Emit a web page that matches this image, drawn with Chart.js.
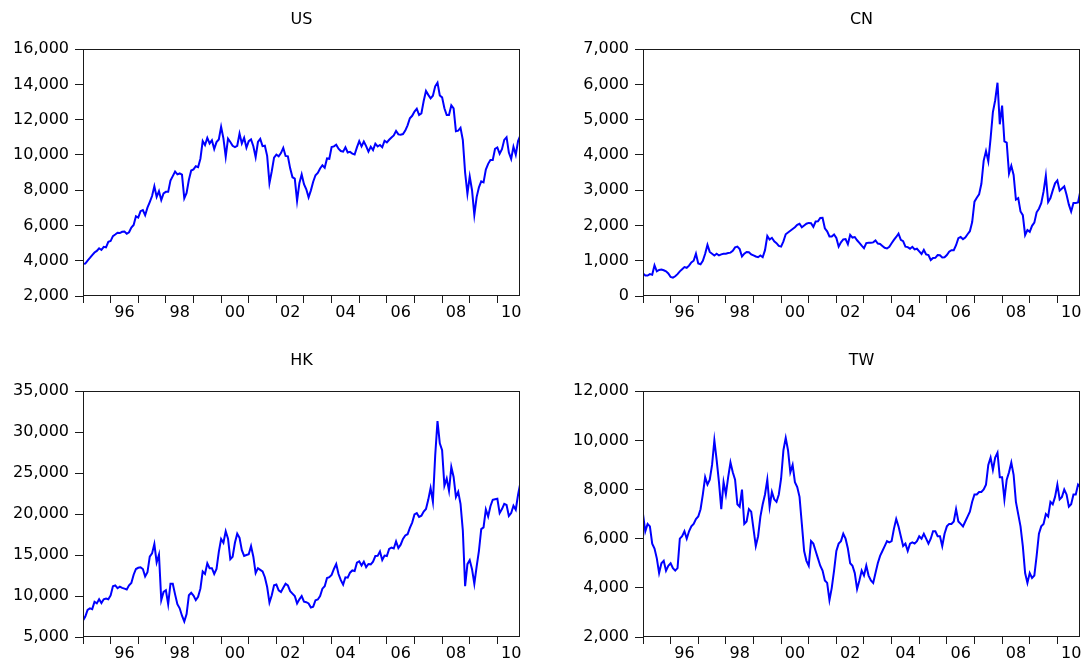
<!DOCTYPE html>
<html>
<head>
<meta charset="utf-8">
<script src="https://cdn.jsdelivr.net/npm/chart.js@4.4.1/dist/chart.umd.min.js"></script>
<style>
html,body{margin:0;padding:0;background:#fff;overflow:hidden;width:1091px;height:662px;position:relative;}
canvas{position:absolute;}
</style>
</head>
<body>
<canvas id="cUS"></canvas>
<canvas id="cCN"></canvas>
<canvas id="cHK"></canvas>
<canvas id="cTW"></canvas>
<script>
// ---- data (monthly readings, first point = Jan 1995, one value per month) ----
const startYear = 1995;
const endYear = 2010.82;
const yearTicks = [1995,1996,1997,1998,1999,2000,2001,2002,2003,2004,2005,2006,2007,2008,2009,2010];
const yearLabels = ['','96','','98','','00','','02','','04','','06','','08','','10'];

const usValues = [
  3834,3844,4011,4158,4321,4465,4556,4708,4611,4789,4756,5075,
  5117,5395,5486,5587,5569,5643,5655,5529,5616,5882,6029,6522,
  6448,6813,6878,6584,7009,7331,7673,8223,7622,7945,7442,7823,
  7908,7907,8546,8800,9063,8900,8952,8883,7539,7843,8592,9117,
  9181,9359,9307,9786,10789,10560,10971,10655,10829,10337,10729,10878,
  11600,10941,9900,10922,10734,10522,10448,10522,11215,10651,10971,10415,
  10787,10887,10495,9879,10735,10912,10502,10523,9950,8400,9075,9852,
  10022,9920,10106,10404,9946,9925,9243,8737,8664,7400,8397,8896,
  8342,8054,7600,7992,8480,8850,8985,9234,9416,9275,9801,9782,
  10454,10488,10584,10358,10226,10188,10435,10140,10174,10080,10027,10428,
  10783,10490,10766,10504,10193,10467,10275,10641,10482,10569,10440,10806,
  10718,10865,10993,11109,11367,11168,11150,11186,11381,11679,12081,12222,
  12463,12622,12269,12354,13063,13628,13409,13212,13358,13896,14100,13372,
  13265,12650,12266,12263,12820,12638,11350,11378,11544,10851,9000,7800,
  8776,8001,6600,7609,8168,8500,8447,9172,9496,9712,9713,10345,
  10428,10067,10325,10857,11009,10137,9774,10466,10015,10788,11118
];

const cnValues = [
  640,580,580,620,600,870,700,740,750,730,700,640,
  540,520,560,620,700,760,820,800,860,950,1000,1200,
  920,900,1000,1200,1450,1250,1200,1150,1200,1150,1180,1200,
  1200,1220,1230,1280,1380,1400,1330,1120,1200,1250,1240,1180,
  1150,1120,1100,1150,1100,1300,1700,1600,1650,1550,1500,1420,
  1400,1550,1750,1800,1850,1900,1950,2020,2050,1950,2000,2050,
  2073,2066,1960,2112,2119,2214,2218,1920,1834,1688,1689,1747,
  1646,1400,1524,1603,1616,1470,1732,1657,1673,1581,1507,1427,
  1357,1500,1511,1510,1521,1576,1487,1477,1421,1367,1349,1398,
  1497,1590,1675,1770,1595,1555,1399,1386,1342,1396,1320,1340,
  1266,1191,1306,1181,1159,1020,1080,1083,1162,1155,1092,1099,
  1161,1258,1299,1299,1440,1641,1672,1612,1658,1752,1837,2099,
  2675,2786,2881,3183,3841,4109,3820,4471,5218,5552,6050,4871,
  5400,4383,4348,3473,3693,3433,2736,2776,2397,2293,1729,1871,
  1821,1990,2082,2373,2477,2632,2959,3412,2667,2779,2996,3195,
  3277,2989,3051,3109,2870,2592,2398,2637,2638,2656,2978
];

const hkValues = [
  7000,7500,8300,8500,8400,9300,9100,9600,9150,9600,9700,9600,
  10073,11200,11300,10950,11150,11000,10900,10800,11300,11600,12600,13300,
  13450,13500,13300,12400,12900,14800,15200,16350,14100,15050,9500,10500,
  10700,9000,11500,11500,10200,9000,8500,7600,6900,7800,10100,10400,
  10050,9500,9900,10900,13000,12700,14000,13400,13400,12700,13300,15400,
  16960,16500,17900,17000,14500,14800,16500,17600,17100,15600,14900,15000,
  15100,16100,14800,12800,13400,13200,13000,12300,11100,9200,10100,11300,
  11400,10700,10500,11000,11500,11300,10600,10300,10000,9100,9600,10000,
  9320,9250,9100,8600,8700,9490,9580,10000,10900,11200,12200,12300,
  12580,13300,13900,12680,11940,11400,12290,12240,12850,13120,13050,14060,
  14230,13720,14200,13520,13910,13870,14200,14880,14900,15430,14390,14940,
  14880,15750,15920,15800,16660,15860,16270,16970,17390,17540,18320,18960,
  19960,20110,19650,19800,20320,20630,21770,23180,21500,27140,31350,28640,
  27810,23460,24330,22850,25760,24530,22100,22730,21260,18020,11200,13890,
  14390,13280,11500,13580,15520,18170,18380,20570,19720,20960,21750,21820,
  21870,20120,20610,21240,21110,19770,20130,21030,20540,22360,23800
];

const twValues = [
  7000,6300,6600,6500,5800,5600,5200,4600,5000,5100,4700,4900,
  5000,4800,4700,4800,6000,6100,6300,6000,6300,6500,6600,6800,
  6900,7200,7800,8500,8200,8400,9000,10000,9200,8300,7200,8300,
  7800,8500,9100,8700,8400,7400,7300,8000,6600,6700,7200,7100,
  6400,5700,6100,6900,7400,7800,8400,7300,7900,7600,7500,7800,
  8450,9600,10100,9600,8700,9000,8300,8100,7700,6600,5500,5100,
  4900,5900,5800,5500,5200,4900,4700,4300,4200,3500,4000,4700,
  5500,5800,5900,6200,6000,5600,5000,4900,4600,3950,4300,4700,
  4500,4900,4500,4300,4200,4600,5000,5300,5500,5700,5900,5850,
  5900,6400,6800,6500,6100,5700,5800,5500,5800,5850,5800,5900,
  6100,6000,6200,6000,5800,6000,6300,6300,6100,6100,5700,6200,
  6500,6600,6600,6700,7200,6700,6600,6500,6700,6900,7100,7500,
  7800,7800,7900,7900,8000,8200,9000,9300,8800,9300,9500,8500,
  8500,7600,8400,8700,9100,8600,7500,7000,6500,5700,4600,4200,
  4600,4400,4500,5300,6200,6500,6600,7000,6900,7500,7400,7700,
  8200,7600,7700,8000,7800,7300,7400,7800,7800,8200,8100
];

// y-axis ranges
const usAxis = [2000, 16000, 2000];
const cnAxis = [0, 7000, 1000];
const hkAxis = [5000, 35000, 5000];
const twAxis = [2000, 12000, 2000];

// ---- styling / layout ----
const FONT = {family: "'DejaVu Sans', Verdana, sans-serif", size: 16, weight: 'normal'};
const SIDE = 80;          // width reserved left (labels) and right (mirror) of each plot
const PLOT_W = 437;
const YEAR_PX = PLOT_W / (endYear - startYear);

const framePlugin = {
  id: 'frame',
  afterDraw(chart) {
    const {ctx, chartArea: a} = chart;
    ctx.save();
    ctx.strokeStyle = '#1a1a1a';
    ctx.lineWidth = 1;
    const l = Math.round(a.left) + 0.5, t = Math.round(a.top) + 0.5;
    const r = Math.round(a.right) - 0.5, b = Math.round(a.bottom) - 0.5;
    ctx.strokeRect(l, t, r - l, b - t);
    ctx.restore();
  }
};

function toPoints(values) {
  return values.map((v, i) => ({x: startYear + i / 12, y: v}));
}

function makePanel(id, title, values, axis, left, top, height, padTop, padBottom, xAxisH) {
  const cv = document.getElementById(id);
  cv.width = PLOT_W + 2 * SIDE;
  cv.height = height;
  cv.style.left = left + 'px';
  cv.style.top = top + 'px';
  cv.style.width = (PLOT_W + 2 * SIDE) + 'px';
  cv.style.height = height + 'px';
  new Chart(cv, {
    type: 'line',
    data: {
      datasets: [{
        data: toPoints(values),
        borderColor: '#0000ff',
        borderWidth: 2,
        pointRadius: 0,
        tension: 0,
        fill: false
      }]
    },
    options: {
      responsive: false,
      animation: false,
      devicePixelRatio: 1,
      layout: {padding: 0},
      plugins: {
        legend: {display: false},
        tooltip: {enabled: false},
        title: {
          display: true, text: title, color: '#000', font: FONT,
          padding: {top: padTop, bottom: padBottom}
        }
      },
      scales: {
        x: {
          type: 'linear', position: 'bottom',
          min: startYear, max: endYear,
          afterBuildTicks: s => { s.ticks = yearTicks.map(v => ({value: v})); },
          afterFit: s => { s.height = xAxisH; },
          grid: {display: true, drawOnChartArea: false, drawTicks: true, tickLength: 7, color: '#1a1a1a', lineWidth: 1},
          border: {display: false},
          ticks: {
            autoSkip: false, maxRotation: 0, minRotation: 0,
            labelOffset: YEAR_PX / 2, padding: 0,
            color: '#000', font: FONT,
            callback: v => yearLabels[yearTicks.indexOf(v)]
          }
        },
        y: {
          type: 'linear', position: 'left',
          min: axis[0], max: axis[1],
          afterFit: s => { s.width = SIDE; },
          grid: {display: true, drawOnChartArea: false, drawTicks: true, tickLength: 8, color: '#1a1a1a', lineWidth: 1},
          border: {display: false},
          ticks: {
            stepSize: axis[2], padding: 6, color: '#000', font: FONT,
            callback: v => v.toLocaleString('en-US')
          }
        },
        y2: {
          type: 'linear', position: 'right', display: true,
          afterFit: s => { s.width = SIDE; },
          grid: {display: false, drawTicks: false},
          border: {display: false},
          ticks: {display: false}
        }
      }
    },
    plugins: [framePlugin]
  });
}

makePanel('cUS', 'US', usValues, usAxis, 83 - SIDE, 0, 326, 10, 20, 30);
makePanel('cCN', 'CN', cnValues, cnAxis, 643 - SIDE, 0, 326, 10, 20, 30);
makePanel('cHK', 'HK', hkValues, hkAxis, 83 - SIDE, 330, 332, 21, 21, 25);
makePanel('cTW', 'TW', twValues, twAxis, 643 - SIDE, 330, 332, 21, 21, 25);
</script>
</body>
</html>
